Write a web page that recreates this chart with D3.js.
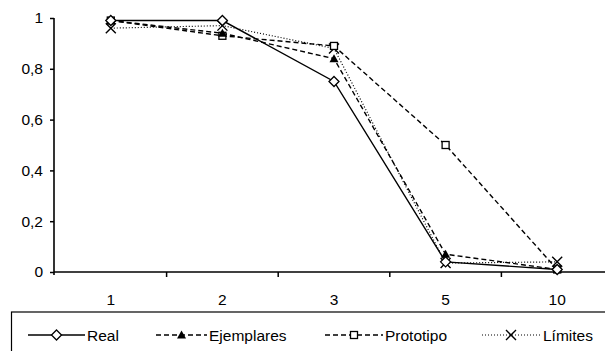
<!DOCTYPE html>
<html><head><meta charset="utf-8">
<script src="https://cdn.jsdelivr.net/npm/d3@7"></script>
<style>body{margin:0;background:#fff}svg{display:block}svg text{font-family:"Liberation Sans",Arial,sans-serif !important;font-size:15.5px !important;fill:#000}</style>
</head><body>
<svg id="c" width="605" height="351"></svg>
<script>
const categories = ["1","2","3","5","10"];
const real = [0.99, 0.99, 0.75, 0.04, 0.01];
const ejemplares = [0.99, 0.94, 0.84, 0.07, 0.01];
const prototipo = [0.99, 0.93, 0.89, 0.50, 0.01];
const limites = [0.96, 0.97, 0.88, 0.035, 0.04];
const yTicks = [0, 0.2, 0.4, 0.6, 0.8, 1];
const seriesNames = ["Real", "Ejemplares", "Prototipo", "Límites"];

const series = [
  {name: seriesNames[0], values: real, dash: null, marker: "diamond"},
  {name: seriesNames[1], values: ejemplares, dash: "5,3", marker: "triangle"},
  {name: seriesNames[2], values: prototipo, dash: "5,3", marker: "square"},
  {name: seriesNames[3], values: limites, dash: "1,2", marker: "x"}
];

const svg = d3.select("#c");
const x = d3.scaleBand().domain(categories).range([55, 613]);
const y = d3.scaleLinear().domain([0, 1]).range([272, 18]);

// axes
const yAxis = svg.append("g").attr("transform", "translate(54,0)")
  .call(d3.axisLeft(y).tickValues(yTicks).tickSize(4).tickPadding(7)
    .tickFormat(d => d3.format("")(d).replace(".", ",")));
yAxis.select(".domain").attr("stroke", "#000").attr("stroke-width", 1.6).attr("d", `M0,${y(1)}V${y(0) + 3}`);
yAxis.selectAll(".tick line").attr("stroke-width", 1.5);

const xAxisG = svg.append("g").attr("transform", `translate(0,${y(0)})`);
xAxisG.append("line").attr("x1", 54).attr("x2", 605).attr("stroke", "#000").attr("stroke-width", 1.6);
const bounds = categories.slice(1).map(c => x(c));
xAxisG.selectAll("line.t").data(bounds).enter().append("line").attr("class", "t")
  .attr("x1", d => d).attr("x2", d => d).attr("y1", 0).attr("y2", 5)
  .attr("stroke", "#000").attr("stroke-width", 1.5);
xAxisG.selectAll("text").data(categories).enter().append("text")
  .attr("x", d => x(d) + x.bandwidth() / 2).attr("y", 33).attr("text-anchor", "middle").text(d => d);

const cx = c => x(c) + x.bandwidth() / 2;

function drawMarker(g, type, px, py) {
  if (type === "diamond") {
    g.append("path").attr("d", `M${px},${py-5}L${px+5},${py}L${px},${py+5}L${px-5},${py}Z`)
      .attr("fill", "#fff").attr("stroke", "#000").attr("stroke-width", 1.3);
  } else if (type === "triangle") {
    g.append("path").attr("d", `M${px},${py-4.5}L${px+4.5},${py+3.5}L${px-4.5},${py+3.5}Z`)
      .attr("fill", "#000");
  } else if (type === "square") {
    g.append("rect").attr("x", px-3.5).attr("y", py-3.5).attr("width", 7).attr("height", 7)
      .attr("fill", "#fff").attr("stroke", "#000").attr("stroke-width", 1.3);
  } else if (type === "x") {
    g.append("path").attr("d", `M${px-5},${py-5}L${px+5},${py+5}M${px+5},${py-5}L${px-5},${py+5}`)
      .attr("stroke", "#000").attr("stroke-width", 1.4).attr("fill", "none");
  }
}

const line = d3.line().x((d, i) => cx(categories[i])).y(d => y(d));
const plot = svg.append("g");
series.forEach(s => {
  plot.append("path").datum(s.values).attr("d", line).attr("fill", "none")
    .attr("stroke", "#000").attr("stroke-width", s.dash === "1,2" ? 1.2 : 1.4)
    .attr("stroke-dasharray", s.dash);
});
series.slice().reverse().forEach(s => {
  const g = plot.append("g");
  s.values.forEach((v, i) => drawMarker(g, s.marker, cx(categories[i]), y(v)));
});

// legend
const lg = svg.append("g");
lg.append("rect").attr("x", 11.5).attr("y", 312).attr("width", 620).attr("height", 60)
  .attr("fill", "#fff").attr("stroke", "#000").attr("stroke-width", 1.2);
const legPos = [{x1: 28, x2: 85, tx: 87}, {x1: 156, x2: 207, tx: 209}, {x1: 325, x2: 383, tx: 385}, {x1: 482, x2: 540, tx: 543}];
const ly = 335;
series.forEach((s, i) => {
  const p = legPos[i];
  lg.append("line").attr("x1", p.x1).attr("x2", p.x2).attr("y1", ly).attr("y2", ly)
    .attr("stroke", "#000").attr("stroke-width", s.dash === "1,2" ? 1.1 : 1.4).attr("stroke-dasharray", s.dash);
  drawMarker(lg, s.marker, (p.x1 + p.x2) / 2, ly);
  lg.append("text").attr("x", p.tx).attr("y", ly + 5.5).text(s.name);
});
</script>
</body></html>
